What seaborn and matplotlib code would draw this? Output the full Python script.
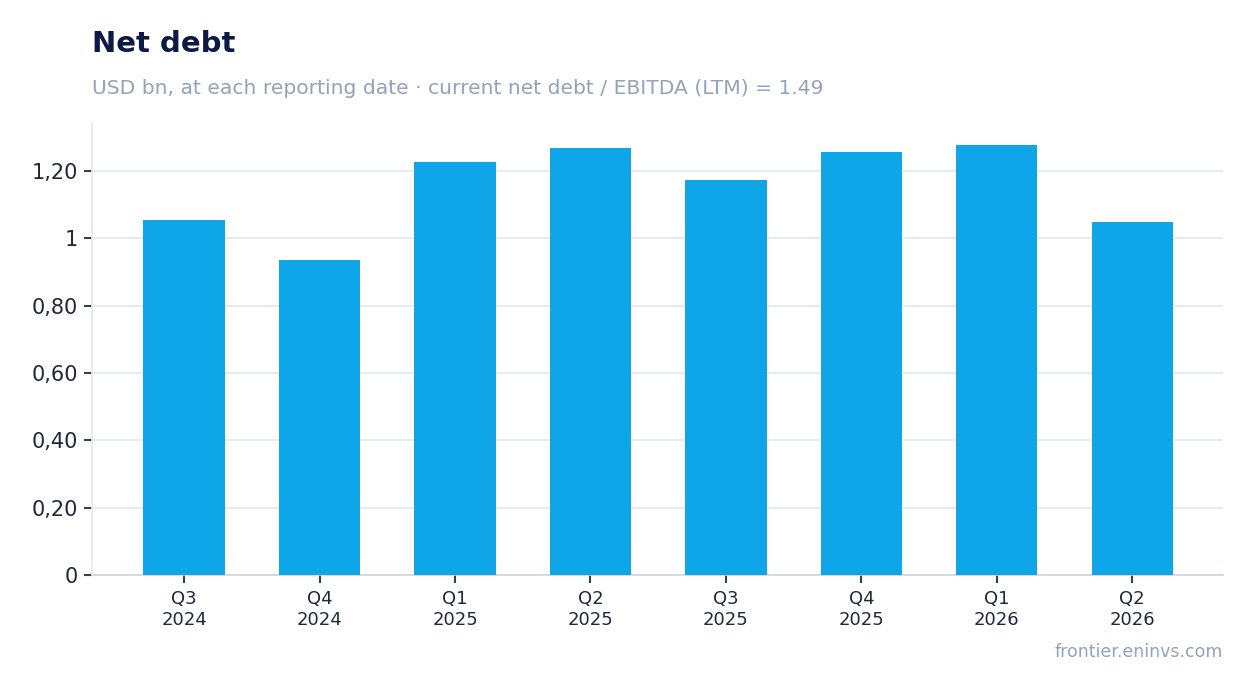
import matplotlib
matplotlib.use("Agg")
import matplotlib.pyplot as plt
import matplotlib.ticker as ticker
import pandas as pd
import seaborn as sns

# 数据
quarters = ["Q3\n2024", "Q4\n2024", "Q1\n2025", "Q2\n2025",
            "Q3\n2025", "Q4\n2025", "Q1\n2026", "Q2\n2026"]
net_debt = [1.054, 0.936, 1.227, 1.268, 1.173, 1.256, 1.277, 1.049]
y_ticks = [0, 0.2, 0.4, 0.6, 0.8, 1.0, 1.2]

BAR_COLOR = "#0ea5e9"
TITLE_COLOR = "#0c1a44"
MUTED = "#94a3b8"
TEXT = "#1e293b"


def fmt_tick(v, pos):
    if abs(v - round(v)) < 1e-9:
        return f"{int(round(v))}"
    return f"{v:.2f}".replace(".", ",")


sns.set_theme(style="white")
plt.rcParams["font.family"] = ["DejaVu Sans"]

df = pd.DataFrame({"quarter": quarters, "value": net_debt})

fig = plt.figure(figsize=(12.54, 6.93), dpi=100)
ax = fig.add_axes([92 / 1254, 1 - 575 / 693, (1223 - 92) / 1254, (575 - 123) / 693])

sns.barplot(data=df, x="quarter", y="value", color=BAR_COLOR, width=0.6,
            saturation=1, linewidth=0, ax=ax, zorder=3)

ax.set_xlim(-0.68, len(quarters) - 0.33)
ax.set_ylim(0, 1.343)
ax.set_yticks(y_ticks)
ax.yaxis.set_major_formatter(ticker.FuncFormatter(fmt_tick))
ax.grid(axis="y", color="#e2e8f0", linewidth=1.2, zorder=0)
ax.set_xlabel("")
ax.set_ylabel("")

for side in ["top", "right"]:
    ax.spines[side].set_visible(False)
for side in ["left", "bottom"]:
    ax.spines[side].set_color("#e2e8f0")
    ax.spines[side].set_linewidth(1.2)
ax.spines["bottom"].set_color("#cbd5e1")

ax.tick_params(axis="y", labelsize=15, colors=TEXT, length=6, width=1.5,
               color="#334155", left=True, pad=4)
ax.tick_params(axis="x", labelsize=13, colors=TEXT, length=6, width=1.5,
               color="#334155", bottom=True, pad=5)

fig.text(92 / 1254, 1 - 44 / 693, "Net debt", fontsize=21, fontweight="bold",
         color=TITLE_COLOR, va="center", ha="left")
fig.text(92 / 1254, 1 - 88 / 693,
         "USD bn, at each reporting date · current net debt / EBITDA (LTM) = 1.49",
         fontsize=14.6, color=MUTED, va="center", ha="left")
fig.text(1223 / 1254, 1 - 652 / 693, "frontier.eninvs.com", fontsize=12.5,
         color=MUTED, va="center", ha="right")

fig.savefig("out.png", dpi=100)
plt.close(fig)
